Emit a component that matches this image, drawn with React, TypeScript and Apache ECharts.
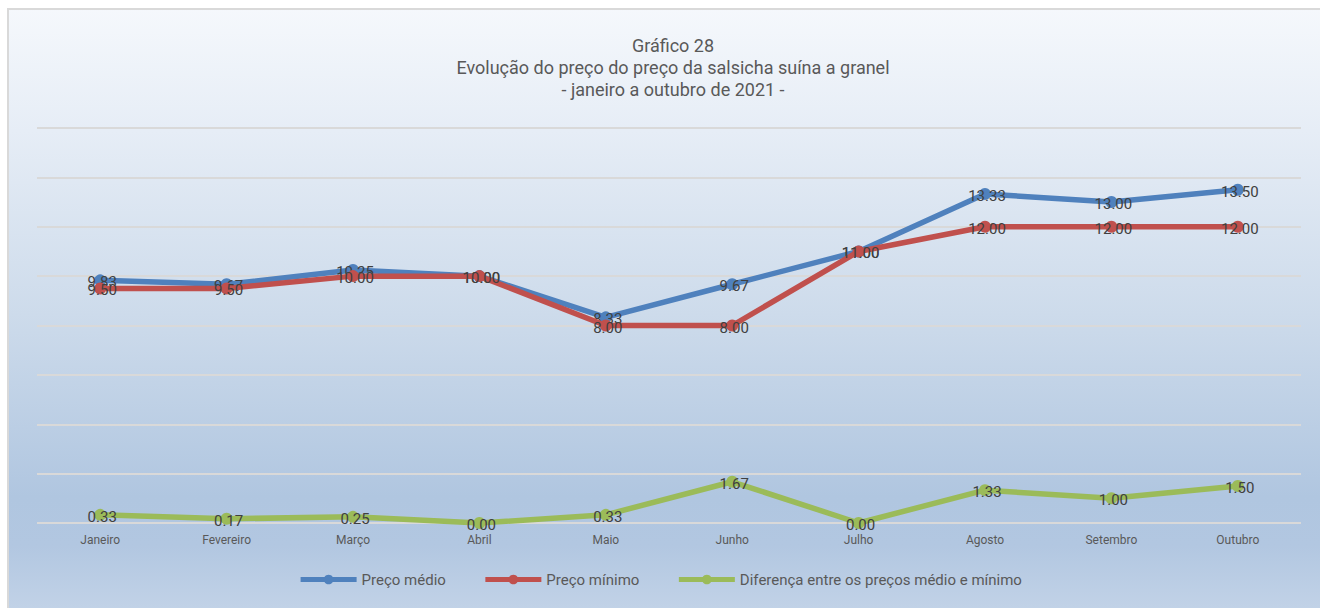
import React, { useEffect, useRef } from "react";
import * as echarts from "echarts";

const categories = ["Janeiro", "Fevereiro", "Março", "Abril", "Maio", "Junho", "Julho", "Agosto", "Setembro", "Outubro"];
const precoMedio = [9.83, 9.67, 10.25, 10.0, 8.33, 9.67, 11.0, 13.33, 13.0, 13.5];
const precoMinimo = [9.5, 9.5, 10.0, 10.0, 8.0, 8.0, 11.0, 12.0, 12.0, 12.0];
const diferenca = [0.33, 0.17, 0.25, 0.0, 0.33, 1.67, 0.0, 1.33, 1.0, 1.5];

const FONT = "Roboto, 'Noto Sans', sans-serif";

export default function App() {
  const ref = useRef<HTMLDivElement>(null);
  useEffect(() => {
    if (!ref.current) return;
    const chart = echarts.init(ref.current, undefined, { renderer: "svg" });
    const mkSeries = (name: string, data: number[], color: string, z: number) => ({
      name,
      type: "line",
      data,
      z,
      symbol: "circle",
      symbolSize: 12,
      lineStyle: { width: 5.5, color },
      itemStyle: { color },
      label: {
        show: true,
        position: "inside",
        offset: [2, 2],
        formatter: (p: any) => Number(p.value).toFixed(2),
        color: "#404040",
        fontSize: 15,
        fontFamily: FONT,
      },
    });
    chart.setOption({
      animation: false,
      backgroundColor: "#ffffff",
      graphic: [
        {
          type: "rect",
          z: -10,
          shape: { x: 8, y: 9, width: 1320, height: 610 },
          style: {
            fill: new echarts.graphic.LinearGradient(0, 0, 0, 1, [
              { offset: 0, color: "#f5f8fc" },
              { offset: 0.2, color: "#e6edf6" },
              { offset: 0.5, color: "#cddbeb" },
              { offset: 0.8, color: "#b0c6e0" },
              { offset: 0.88, color: "#b2c7e1" },
              { offset: 1, color: "#c4d4e8" },
            ]),
            stroke: "#d9d9d9",
            lineWidth: 2,
          },
        },
      ],
      title: {
        text: "Gráfico 28\nEvolução do preço do preço da salsicha suína a granel\n- janeiro a outubro de 2021 -",
        left: 668,
        textAlign: "center",
        top: 29,
        textStyle: {
          fontFamily: FONT,
          fontSize: 18,
          fontWeight: "normal",
          color: "#595959",
          lineHeight: 22,
        },
      },
      legend: {
        bottom: 16,
        left: "center",
        itemWidth: 56,
        itemHeight: 12,
        itemGap: 37,
        lineStyle: { width: 5 },
        textStyle: { fontFamily: FONT, fontSize: 15, color: "#595959" },
        data: ["Preço médio", "Preço mínimo", "Diferença entre os preços médio e mínimo"],
      },
      grid: { left: 37, right: 19, top: 128, bottom: 85, containLabel: false },
      xAxis: {
        type: "category",
        data: categories,
        boundaryGap: true,
        axisLine: { show: false },
        axisTick: { show: false },
        axisLabel: { fontFamily: FONT, fontSize: 12, color: "#595959", margin: 11 },
      },
      yAxis: {
        type: "value",
        min: 0,
        max: 16,
        interval: 2,
        axisLabel: { show: false },
        axisLine: { show: false },
        axisTick: { show: false },
        splitLine: { lineStyle: { color: "#d9d9d9", width: 2 } },
      },
      series: [
        mkSeries("Preço médio", precoMedio, "#4f81bd", 3),
        mkSeries("Preço mínimo", precoMinimo, "#c0504d", 4),
        mkSeries("Diferença entre os preços médio e mínimo", diferenca, "#9bbb59", 5),
      ],
    });
    return () => chart.dispose();
  }, []);
  return <div ref={ref} style={{ position: "absolute", left: 0, top: 0, width: 1320, height: 608 }} />;
}
